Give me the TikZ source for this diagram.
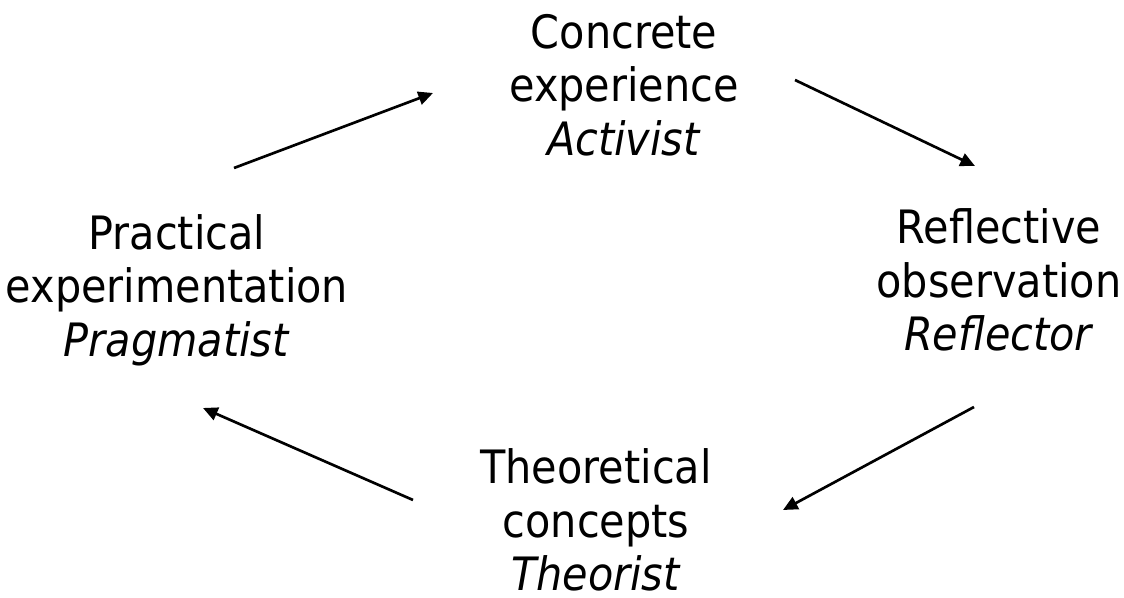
\documentclass[tikz,border=0pt]{standalone}
\usepackage{fontspec}
\setmainfont{DejaVu Sans Condensed}
\usetikzlibrary{arrows.meta}

\begin{document}
\begin{tikzpicture} [
            x=0.75pt, y=-0.75pt,
            stage/.style={align=center,inner sep=0pt,font=\fontsize{34.5}{40}\selectfont},
            cycle edge/.style = {draw,line width=2pt,-{Triangle[length=11pt,width=10pt]}},
        ]
        \useasboundingbox (0,0) rectangle (1124,598);
        % First we draw the stages
        \foreach \pos/\name/\label in {
                {(624,85)/concrete/{Concrete\\experience\\\textit{Activist}}},
                {(999,280)/reflective/{Reflective\\observation\\\textit{Reflector}}},
                {(596,520)/theoretical/{Theoretical\\concepts\\\textit{Theorist}}},
                {(177,290)/practical/{Practical\\experimentation\\\textit{Pragmatist}}}}
            \node[stage] (\name) at \pos {\label};
        % End points of the arrows
        \coordinate (p1) at (234,168);
        \coordinate (c1) at (433,93);
        \coordinate (c2) at (795,80);
        \coordinate (r1) at (975,166);
        \coordinate (r2) at (974,407);
        \coordinate (t1) at (783,510);
        \coordinate (t2) at (413,500);
        \coordinate (p2) at (203,408);
        % Connect the stages
        \foreach \source/ \dest in {p1/c1,c2/r1,r2/t1,t2/p2}
            \path[cycle edge] (\source) -- (\dest);
    \end{tikzpicture}
\end{document}
